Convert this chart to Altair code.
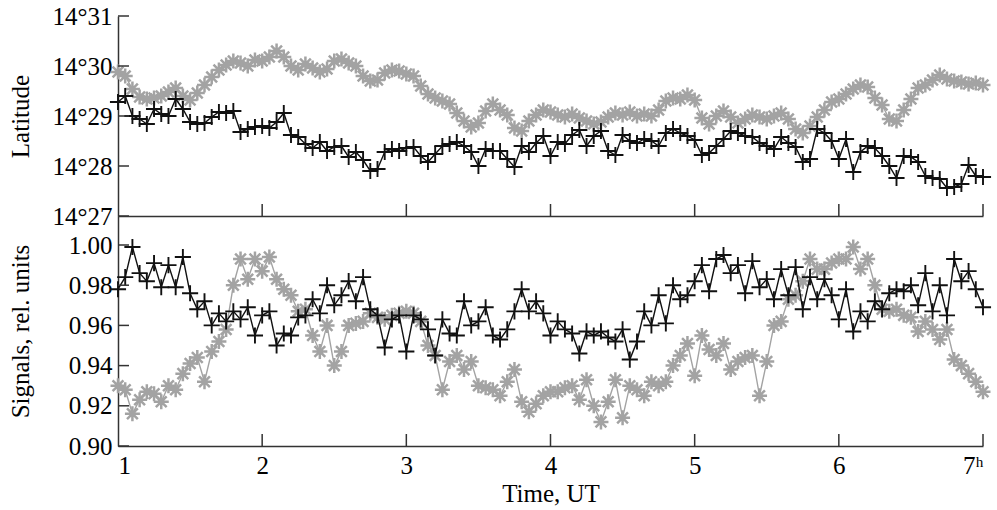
import altair as alt
import pandas as pd

# Time, UT (hours)
TIME = [1.00, 1.05, 1.10, 1.15, 1.20, 1.25, 1.30, 1.35, 1.40, 1.45,
        1.50, 1.55, 1.60, 1.65, 1.70, 1.75, 1.80, 1.85, 1.90, 1.95,
        2.00, 2.05, 2.10, 2.15, 2.20, 2.25, 2.30, 2.35, 2.40, 2.45,
        2.50, 2.55, 2.60, 2.65, 2.70, 2.75, 2.80, 2.85, 2.90, 2.95,
        3.00, 3.05, 3.10, 3.15, 3.20, 3.25, 3.30, 3.35, 3.40, 3.45,
        3.50, 3.55, 3.60, 3.65, 3.70, 3.75, 3.80, 3.85, 3.90, 3.95,
        4.00, 4.05, 4.10, 4.15, 4.20, 4.25, 4.30, 4.35, 4.40, 4.45,
        4.50, 4.55, 4.60, 4.65, 4.70, 4.75, 4.80, 4.85, 4.90, 4.95,
        5.00, 5.05, 5.10, 5.15, 5.20, 5.25, 5.30, 5.35, 5.40, 5.45,
        5.50, 5.55, 5.60, 5.65, 5.70, 5.75, 5.80, 5.85, 5.90, 5.95,
        6.00, 6.05, 6.10, 6.15, 6.20, 6.25, 6.30, 6.35, 6.40, 6.45,
        6.50, 6.55, 6.60, 6.65, 6.70, 6.75, 6.80, 6.85, 6.90, 6.95,
        7.00]

# Latitude, arc-minutes after 14 degrees
LAT_GRAY = [29.88, 29.80, 29.54, 29.38, 29.34, 29.36, 29.40, 29.48, 29.56, 29.40,
            29.32, 29.46, 29.62, 29.78, 29.92, 30.02, 30.10, 30.06, 30.00, 30.12,
            30.10, 30.18, 30.30, 30.18, 30.00, 29.92, 30.04, 29.96, 29.88, 29.94,
            30.10, 30.14, 30.06, 30.00, 29.80, 29.70, 29.72, 29.86, 29.92, 29.90,
            29.84, 29.80, 29.60, 29.44, 29.36, 29.30, 29.24, 29.06, 28.90, 28.78,
            28.86, 29.10, 29.24, 29.12, 29.02, 28.76, 28.70, 28.90, 29.02, 29.12,
            29.08, 29.02, 28.98, 29.04, 28.96, 28.90, 28.84, 28.88, 28.98, 29.06,
            29.02, 29.08, 29.00, 29.04, 29.00, 29.12, 29.30, 29.36, 29.34, 29.42,
            29.32, 28.96, 28.84, 29.00, 29.10, 28.98, 28.86, 28.94, 29.02, 28.98,
            28.94, 29.00, 29.06, 28.94, 28.74, 28.66, 28.80, 28.98, 29.12, 29.28,
            29.34, 29.44, 29.54, 29.62, 29.58, 29.36, 29.22, 28.94, 28.90, 29.12,
            29.34, 29.56, 29.62, 29.72, 29.82, 29.74, 29.70, 29.68, 29.64, 29.66,
            29.62]

LAT_BLACK = [29.28, 29.40, 29.00, 28.94, 28.84, 29.14, 29.04, 29.00, 29.34, 29.14,
             28.88, 28.84, 28.86, 28.98, 29.08, 29.06, 29.10, 28.68, 28.74, 28.78,
             28.80, 28.76, 28.88, 29.06, 28.62, 28.58, 28.44, 28.36, 28.48, 28.30,
             28.38, 28.40, 28.18, 28.28, 28.12, 27.90, 27.94, 28.28, 28.34, 28.30,
             28.36, 28.38, 28.20, 28.08, 28.24, 28.40, 28.44, 28.48, 28.40, 28.28,
             28.00, 28.34, 28.30, 28.30, 28.14, 27.98, 28.40, 28.28, 28.46, 28.60,
             28.20, 28.48, 28.44, 28.62, 28.72, 28.40, 28.60, 28.70, 28.30, 28.22,
             28.62, 28.50, 28.46, 28.54, 28.50, 28.40, 28.66, 28.74, 28.66, 28.60,
             28.52, 28.22, 28.26, 28.40, 28.54, 28.70, 28.66, 28.60, 28.58, 28.46,
             28.40, 28.34, 28.58, 28.46, 28.38, 28.08, 28.14, 28.74, 28.66, 28.50,
             28.14, 28.54, 27.88, 28.28, 28.40, 28.36, 28.20, 28.00, 27.76, 28.20,
             28.18, 28.08, 27.80, 27.76, 27.74, 27.56, 27.58, 27.64, 28.02, 27.80,
             27.78]

# Signals, relative units
SIG_GRAY = [0.930, 0.928, 0.916, 0.923, 0.927, 0.926, 0.922, 0.930, 0.928, 0.936,
            0.941, 0.944, 0.932, 0.947, 0.952, 0.958, 0.980, 0.993, 0.983, 0.993,
            0.987, 0.994, 0.983, 0.978, 0.975, 0.967, 0.968, 0.955, 0.947, 0.960,
            0.940, 0.947, 0.960, 0.961, 0.962, 0.966, 0.964, 0.963, 0.965, 0.966,
            0.967, 0.966, 0.962, 0.950, 0.945, 0.928, 0.942, 0.945, 0.938, 0.942,
            0.930, 0.929, 0.928, 0.925, 0.932, 0.938, 0.922, 0.917, 0.921, 0.925,
            0.927, 0.927, 0.929, 0.930, 0.923, 0.933, 0.920, 0.912, 0.922, 0.933,
            0.914, 0.930, 0.928, 0.925, 0.932, 0.930, 0.932, 0.940, 0.945, 0.951,
            0.935, 0.955, 0.948, 0.945, 0.951, 0.938, 0.942, 0.944, 0.945, 0.925,
            0.942, 0.960, 0.962, 0.973, 0.975, 0.982, 0.993, 0.988, 0.988, 0.991,
            0.993, 0.993, 0.999, 0.988, 0.993, 0.980, 0.968, 0.967, 0.968, 0.965,
            0.964, 0.957, 0.962, 0.958, 0.953, 0.958, 0.943, 0.940, 0.936, 0.932,
            0.927]

SIG_BLACK = [0.978, 0.984, 0.999, 0.986, 0.982, 0.991, 0.979, 0.990, 0.979, 0.994,
             0.976, 0.968, 0.972, 0.960, 0.966, 0.962, 0.967, 0.963, 0.969, 0.955,
             0.965, 0.967, 0.950, 0.956, 0.955, 0.964, 0.965, 0.973, 0.966, 0.980,
             0.970, 0.975, 0.982, 0.972, 0.984, 0.968, 0.965, 0.949, 0.963, 0.965,
             0.947, 0.965, 0.963, 0.958, 0.945, 0.963, 0.956, 0.955, 0.972, 0.960,
             0.962, 0.969, 0.955, 0.953, 0.958, 0.967, 0.978, 0.967, 0.972, 0.966,
             0.955, 0.962, 0.958, 0.956, 0.946, 0.957, 0.955, 0.957, 0.954, 0.952,
             0.958, 0.943, 0.952, 0.967, 0.960, 0.975, 0.961, 0.980, 0.973, 0.975,
             0.982, 0.990, 0.977, 0.993, 0.995, 0.986, 0.990, 0.976, 0.992, 0.979,
             0.983, 0.973, 0.988, 0.975, 0.989, 0.968, 0.984, 0.973, 0.983, 0.975,
             0.963, 0.978, 0.957, 0.967, 0.962, 0.972, 0.968, 0.976, 0.978, 0.977,
             0.980, 0.970, 0.986, 0.967, 0.980, 0.965, 0.993, 0.982, 0.987, 0.978,
             0.969]

X_TICKS = [1, 2, 3, 4, 5, 6, 7]
LAT_TICKS = [27, 28, 29, 30, 31]
SIG_TICKS = [0.90, 0.92, 0.94, 0.96, 0.98, 1.00]

FONT = "Liberation Serif"
FS = 25
W = 865
H_TOP = 200
H_BOT = 230
GRAY = "#a3a3a3"
BLACK = "#111111"
AXC = "#333333"

PLUS = "M-1,0L1,0M0,-1L0,1"
STAR = "M-1,0L1,0M0,-1L0,1M-0.72,-0.72L0.72,0.72M-0.72,0.72L0.72,-0.72"

top_df = pd.DataFrame({"t": TIME, "gray": LAT_GRAY, "black": LAT_BLACK})
bot_df = pd.DataFrame({"t": TIME, "gray": SIG_GRAY, "black": SIG_BLACK})
xt_df = pd.DataFrame({"t": X_TICKS[1:]})
lat_tick_df = pd.DataFrame({"v": LAT_TICKS})
sig_tick_df = pd.DataFrame({"v": SIG_TICKS})

x_scale = alt.Scale(domain=[1, 7], nice=False, zero=False)
lat_scale = alt.Scale(domain=[27, 31], nice=False, zero=False)
sig_scale = alt.Scale(domain=[0.90, 0.90 + H_BOT / 2010.0], nice=False, zero=False)


def y_axis(title, values, fmt_expr, height):
    return alt.Axis(
        title=title, values=values, labelExpr=fmt_expr,
        ticks=False, grid=False, labelPadding=6,
        labelFont=FONT, labelFontSize=FS, labelColor="black",
        titleFont=FONT, titleFontSize=FS, titleFontWeight="normal", titleColor="black",
        titleX=-98, titleY=height / 2, titleAngle=270, titleAlign="center",
        titleBaseline="middle",
        domainColor=AXC, domainWidth=1.5,
    )


top_xaxis = alt.Axis(title=None, labels=False, ticks=False, grid=False,
                     domainColor=AXC, domainWidth=1.5)
bot_xaxis = alt.Axis(title="Time, UT", values=X_TICKS, ticks=False, grid=False,
                     labelPadding=7,
                     labelExpr="datum.value == 7 ? '7\u02b0' : datum.label",
                     labelFont=FONT, labelFontSize=FS, labelColor="black",
                     titleFont=FONT, titleFontSize=FS, titleFontWeight="normal",
                     titleColor="black", titleY=47, titleBaseline="middle",
                     domainColor=AXC, domainWidth=1.5)
top_yaxis = y_axis("Latitude", LAT_TICKS, "'14°' + datum.value", H_TOP)
bot_yaxis = y_axis("Signals, rel. units", SIG_TICKS, "format(datum.value, '.2f')", H_BOT)


def panel(df, ytick_df, xscale, xaxis, yscale, yaxis, height):
    base = alt.Chart(df)
    x = alt.X("t:Q", scale=xscale, axis=xaxis)
    g_line = base.mark_line(color=GRAY, strokeWidth=1.4).encode(
        x=x, y=alt.Y("gray:Q", scale=yscale, axis=yaxis))
    g_pts = base.mark_point(shape=STAR, filled=False, color=GRAY, size=225,
                            strokeWidth=2.5, opacity=1).encode(
        x=x, y=alt.Y("gray:Q", scale=yscale, axis=yaxis))
    b_line = base.mark_line(color=BLACK, strokeWidth=1.4).encode(
        x=x, y=alt.Y("black:Q", scale=yscale, axis=yaxis))
    b_pts = base.mark_point(shape=PLUS, filled=False, color=BLACK, size=260,
                            strokeWidth=1.9, opacity=1).encode(
        x=x, y=alt.Y("black:Q", scale=yscale, axis=yaxis))
    # inward tick marks
    xt = alt.Chart(xt_df).mark_rule(color=AXC, strokeWidth=1.5).encode(
        x=x, y=alt.value(height), y2=alt.value(height - 12))
    yt = alt.Chart(ytick_df).mark_rule(color=AXC, strokeWidth=1.5).encode(
        y=alt.Y("v:Q", scale=yscale, axis=yaxis),
        x=alt.value(0), x2=alt.value(11))
    return alt.layer(g_line, g_pts, b_line, b_pts, xt, yt).properties(
        width=W, height=height)


top = panel(top_df, lat_tick_df, x_scale, top_xaxis, lat_scale, top_yaxis, H_TOP)
bottom = panel(bot_df, sig_tick_df, x_scale, bot_xaxis, sig_scale, bot_yaxis, H_BOT)

chart = alt.vconcat(top, bottom, spacing=0, bounds="flush").properties(
    padding={"left": 8, "top": 4, "right": 0, "bottom": 0},
    background="white",
).configure_view(stroke=None)

chart.save("out.html", embed_options={"renderer": "svg", "actions": False})
